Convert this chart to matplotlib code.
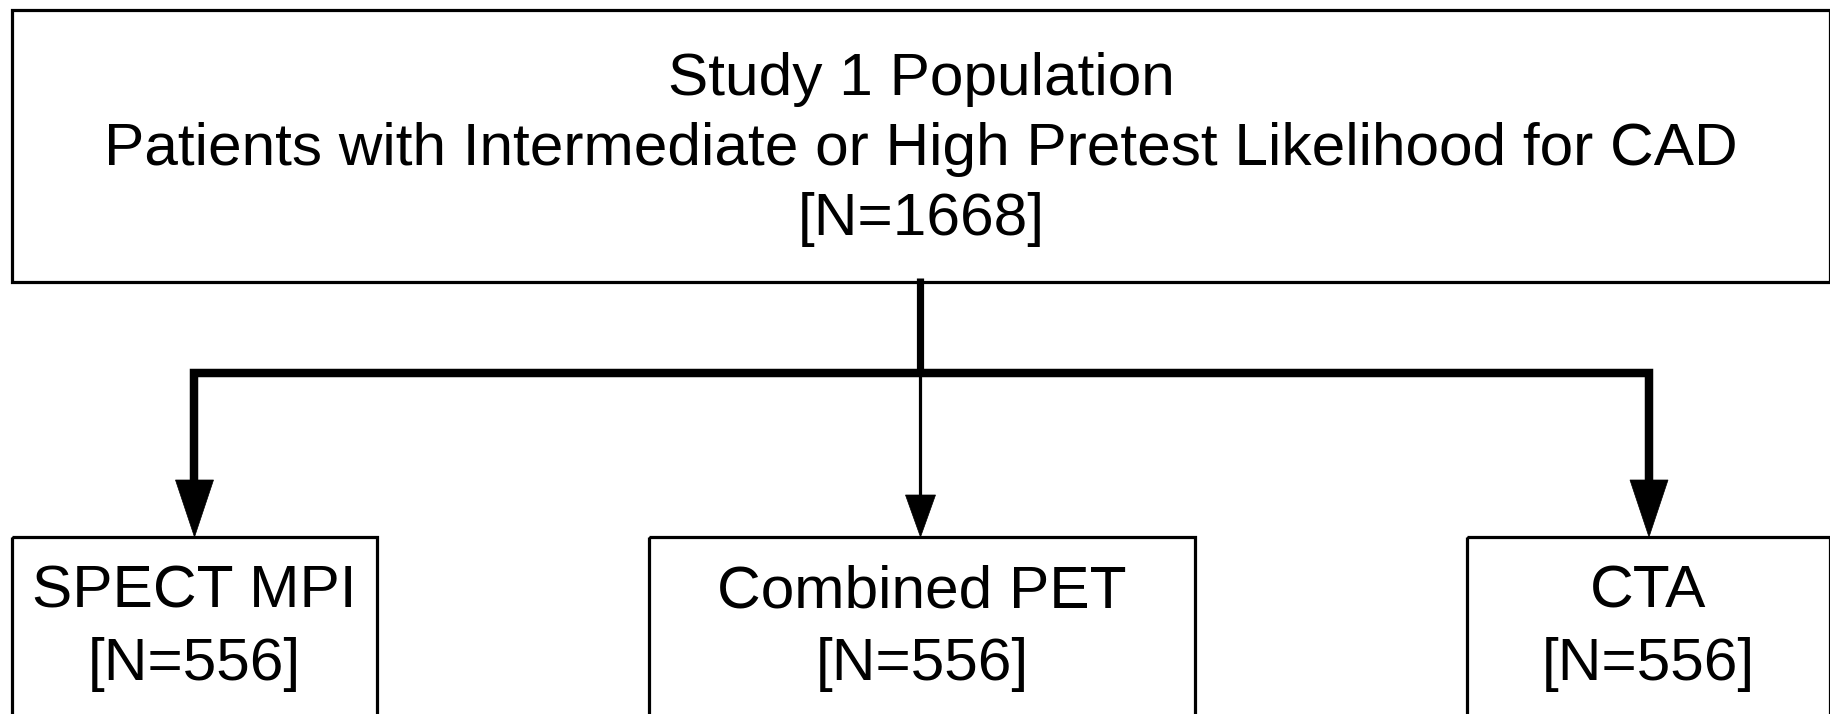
import matplotlib
matplotlib.use("Agg")
import matplotlib.pyplot as plt
from matplotlib.patches import Rectangle, Polygon

# ---- content ----
top_lines = ["Study 1 Population",
             "Patients with Intermediate or High Pretest Likelihood for CAD",
             "[N=1668]"]
arm_names = ["SPECT MPI", "Combined PET", "CTA"]
arm_counts = [556, 556, 556]
total_n = 1668

# ---- layout (pixel space, y downward) ----
W, H = 1831, 714
top_box = (12, 10, 1830, 282)          # x0, y0, x1, y1
top_baselines = [95, 165, 235]
arm_boxes = [(12, 537, 377, 760), (649, 537, 1195, 760), (1467, 537, 1830, 760)]
arm_baselines = [608, 680]
bus_y = 373
stem_x = 920
arm_x = [194.5, 920.5, 1649]
thick_head = (57, 38)   # height, width
thin_head = (42, 30)

fig = plt.figure(figsize=(W / 100, H / 100), dpi=100)
ax = fig.add_axes([0, 0, 1, 1])
ax.set_xlim(0, W)
ax.set_ylim(H, 0)
ax.axis("off")

FONT = "Liberation Sans"
FS = 43.5
box_lw = 2.3
thick_lw = 6.1
thin_lw = 2.3

def box(b):
    x0, y0, x1, y1 = b
    ax.add_patch(Rectangle((x0, y0), x1 - x0, y1 - y0, fill=False,
                           edgecolor="black", linewidth=box_lw, joinstyle="miter",
                           clip_on=True))

box(top_box)
cx_top = (top_box[0] + top_box[2]) / 2
for line, yb in zip(top_lines, top_baselines):
    ax.text(cx_top, yb, line, ha="center", va="baseline", fontsize=FS, family=FONT)

for b, name, n in zip(arm_boxes, arm_names, arm_counts):
    box(b)
    cx = (b[0] + b[2]) / 2
    ax.text(cx, arm_baselines[0], name, ha="center", va="baseline", fontsize=FS, family=FONT)
    ax.text(cx, arm_baselines[1], f"[N={n}]", ha="center", va="baseline", fontsize=FS, family=FONT)

box_top = arm_boxes[0][1]

# stem from top box down to bus
ax.plot([stem_x, stem_x], [top_box[3] - 4, bus_y], color="black", lw=thick_lw * 0.85,
        solid_capstyle="butt")
# bus with outer arms (thick)
ax.plot([arm_x[0], arm_x[0], arm_x[2], arm_x[2]],
        [box_top - thick_head[0], bus_y, bus_y, box_top - thick_head[0]],
        color="black", lw=thick_lw, solid_joinstyle="miter", solid_capstyle="butt")
# middle thin arm
ax.plot([arm_x[1], arm_x[1]], [bus_y, box_top - thin_head[0]], color="black",
        lw=thin_lw, solid_capstyle="butt")

def head(x, h, w):
    ax.add_patch(Polygon([(x - w / 2, box_top - h), (x + w / 2, box_top - h), (x, box_top)],
                         closed=True, facecolor="black", edgecolor="black", lw=0.5))

head(arm_x[0], *thick_head)
head(arm_x[1], *thin_head)
head(arm_x[2], *thick_head)

fig.savefig("out.png", dpi=100, facecolor="white")
